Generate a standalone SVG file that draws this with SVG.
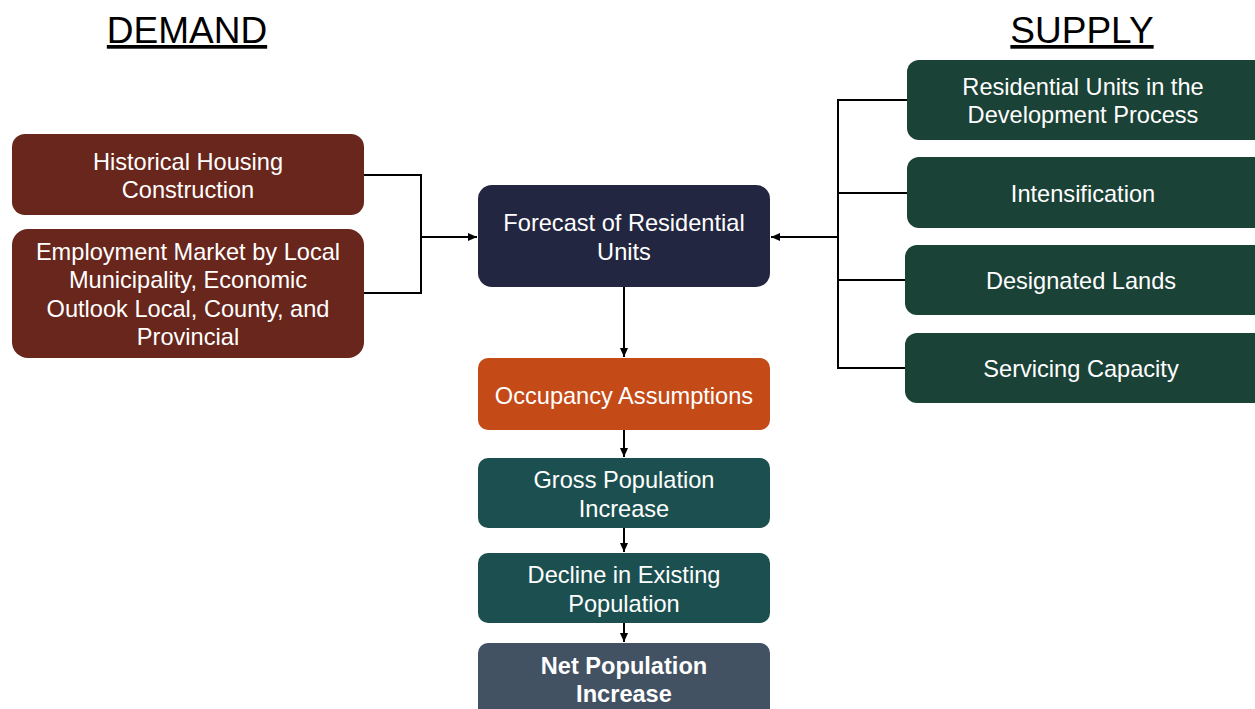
<svg xmlns="http://www.w3.org/2000/svg" width="1255" height="709" viewBox="0 0 1255 709">
<defs>
<marker id="ah" markerWidth="10" markerHeight="10" refX="9" refY="5" orient="auto" markerUnits="userSpaceOnUse">
<path d="M0,1 L9,5 L0,9 Z" fill="#000"/>
</marker>
<style>
.t{font-family:"Liberation Sans",Arial,sans-serif;font-size:23.6px;fill:#fff;text-anchor:middle}
.b{font-weight:bold}
.h{font-family:"Liberation Sans",Arial,sans-serif;font-size:37px;fill:#000;text-anchor:middle;text-decoration:underline}
.c{fill:none;stroke:#000;stroke-width:2}
.dem{fill:#68261C}
.sup{fill:#1B4237}
</style>
</defs>
<rect width="1255" height="709" fill="#fff"/>
<text class="h" x="187" y="43">DEMAND</text>
<text class="h" x="1082" y="43">SUPPLY</text>

<g id="connectors">
<polyline class="c" points="364,175 421,175 421,293 364,293"/>
<line class="c" x1="421" y1="237" x2="477" y2="237" marker-end="url(#ah)"/>
<polyline class="c" points="907,100 838,100 838,368 905,368"/>
<line class="c" x1="838" y1="193" x2="907" y2="193"/>
<line class="c" x1="838" y1="280" x2="905" y2="280"/>
<line class="c" x1="838" y1="237" x2="771" y2="237" marker-end="url(#ah)"/>
<line class="c" x1="624" y1="287" x2="624" y2="357" marker-end="url(#ah)"/>
<line class="c" x1="624" y1="430" x2="624" y2="457" marker-end="url(#ah)"/>
<line class="c" x1="624" y1="528" x2="624" y2="552" marker-end="url(#ah)"/>
<line class="c" x1="624" y1="623" x2="624" y2="642" marker-end="url(#ah)"/>
</g>

<g id="historical">
<rect class="dem" x="12" y="134" width="352" height="81" rx="13"/>
<text class="t" x="188" y="170">Historical Housing</text>
<text class="t" x="188" y="198">Construction</text>
</g>
<g id="employment">
<rect class="dem" x="12" y="229" width="352" height="129" rx="16"/>
<text class="t" x="188" y="260">Employment Market by Local</text>
<text class="t" x="188" y="288">Municipality, Economic</text>
<text class="t" x="188" y="317">Outlook Local, County, and</text>
<text class="t" x="188" y="345">Provincial</text>
</g>
<g id="forecast">
<rect x="478" y="185" width="292" height="102" rx="14" fill="#232640"/>
<text class="t" x="624" y="231">Forecast of Residential</text>
<text class="t" x="624" y="260">Units</text>
</g>
<g id="occupancy">
<rect x="478" y="358" width="292" height="72" rx="10" fill="#C44A17"/>
<text class="t" x="624" y="404">Occupancy Assumptions</text>
</g>
<g id="gross">
<rect x="478" y="458" width="292" height="70" rx="10" fill="#1C5050"/>
<text class="t" x="624" y="488">Gross Population</text>
<text class="t" x="624" y="517">Increase</text>
</g>
<g id="decline">
<rect x="478" y="553" width="292" height="70" rx="10" fill="#1C5050"/>
<text class="t" x="624" y="583">Decline in Existing</text>
<text class="t" x="624" y="612">Population</text>
</g>
<g id="net">
<rect x="478" y="643" width="292" height="80" rx="10" fill="#425263"/>
<text class="t b" x="624" y="674">Net Population</text>
<text class="t b" x="624" y="702">Increase</text>
</g>
<g id="residential">
<rect class="sup" x="907" y="60" width="360" height="80" rx="12"/>
<text class="t" x="1083" y="95">Residential Units in the</text>
<text class="t" x="1083" y="123">Development Process</text>
</g>
<g id="intensification">
<rect class="sup" x="907" y="157" width="360" height="71" rx="12"/>
<text class="t" x="1083" y="202">Intensification</text>
</g>
<g id="designated">
<rect class="sup" x="905" y="245" width="362" height="70" rx="12"/>
<text class="t" x="1081" y="289">Designated Lands</text>
</g>
<g id="servicing">
<rect class="sup" x="905" y="333" width="362" height="70" rx="12"/>
<text class="t" x="1081" y="377">Servicing Capacity</text>
</g>
</svg>
